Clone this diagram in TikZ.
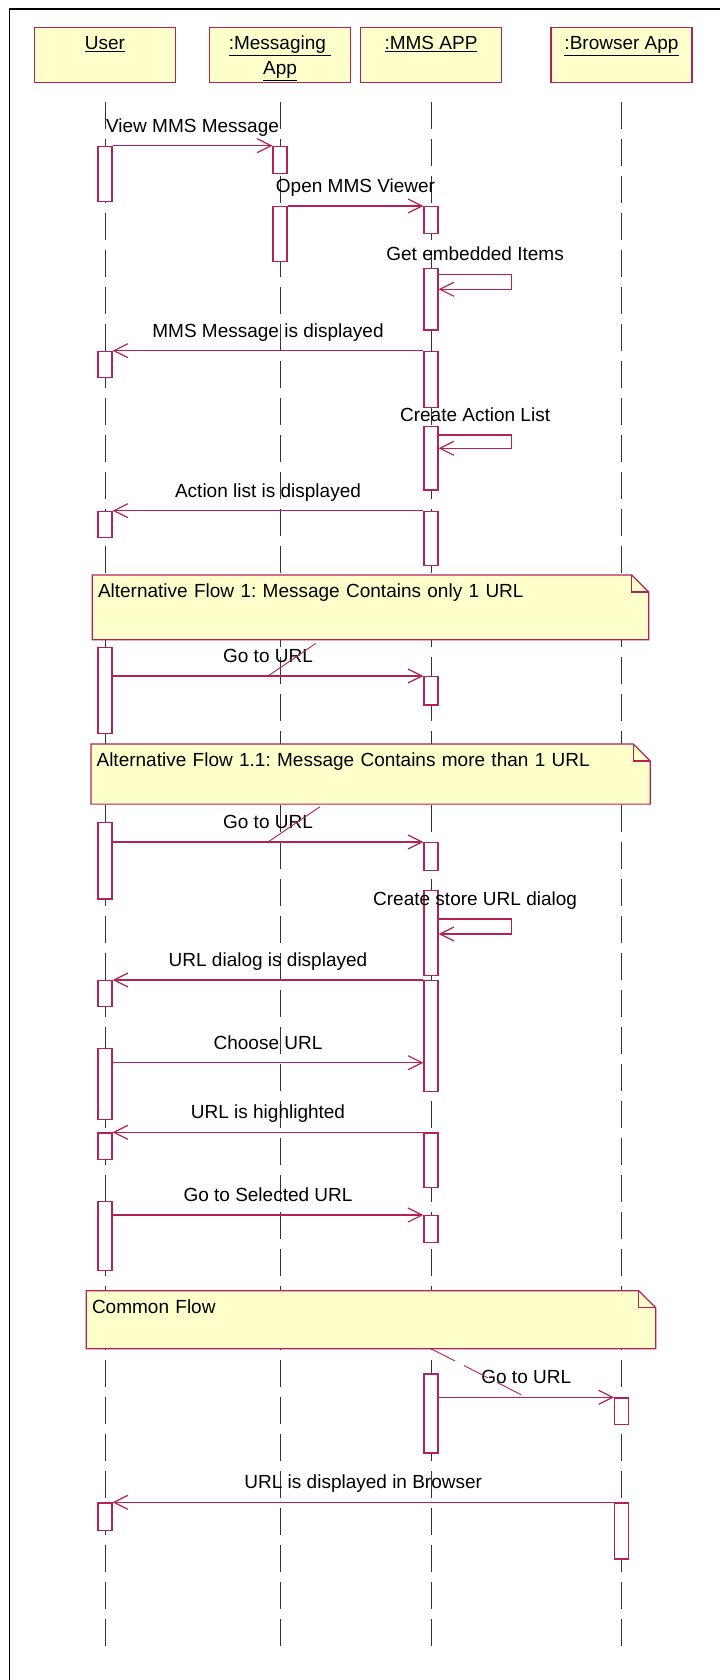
\documentclass[tikz,border=0pt]{standalone}
\usepackage{fontspec}
\setmainfont{Liberation Sans}
\usepackage{tikz}
\usetikzlibrary{arrows.meta, positioning}
\definecolor{RoseLine}{RGB}{178,34,86}
\definecolor{NoteFill}{RGB}{255,255,204}
\colorlet{LifeLine}{black!80}
\newcommand{\seqfont}{\fontsize{19}{25}\selectfont\frenchspacing}

\begin{document}
\begin{tikzpicture}[
    x=1pt, y=-1pt,
    obj/.style={
        rectangle, draw=RoseLine, line width=1.2pt, fill=NoteFill,
        minimum width=141pt, minimum height=55.4pt, inner sep=0pt,
        font=\seqfont, text height=22.7pt, text depth=32.7pt
    },
    act/.style={
        rectangle, draw=RoseLine, line width=1.2pt, fill=white,
        minimum width=14pt, minimum height=#1pt, inner sep=0pt,
        anchor=north
    },
    act/.default=27,
    life/.style={draw=LifeLine, line width=1pt, dash pattern=on 27pt off 10pt},
    msg/.style={draw=RoseLine, line width=1.2pt,
        -{Straight Barb[length=14pt, width=14pt]}},
    msglabel/.style={font=\seqfont, inner sep=0pt, text height=14pt,
        text depth=4pt, midway, yshift=18.5pt},
    note/.style={
        rectangle, fill=NoteFill, anchor=north west, inner ysep=0pt,
        inner xsep=5.5pt, align=left, font=\seqfont, text height=22.3pt
    },
    noteline/.style={draw=RoseLine, line width=1.2pt},
    slash/.style={draw=RoseLine, line width=0.9pt},
    frame/.style={draw=black, line width=1.6pt}
]
\useasboundingbox (0,0) rectangle (720,1680);

% ===================================================================
% FRAME AND OBJECTS
% ===================================================================
\draw[frame] (9.3,1680) -- (9.3,9.3) -- (720,9.3);

\node[obj] (user) at (105,55) {\underline{User}};
\node[obj] (msgapp) at (280,55)
    {\begin{tabular}[t]{@{}c@{}}\underline{:Messaging\ }\\\underline{App}\end{tabular}};
\node[obj] (mmsapp) at (431,55) {\underline{:MMS APP}};
\node[obj] (browser) at (621.5,55) {\underline{:Browser App}};

% lifelines
\draw[life] (user |- 0,101.7) -- (user |- 0,1648.3);
\draw[life] (msgapp |- 0,101.7) -- (msgapp |- 0,1648.3);
\draw[life] (mmsapp |- 0,101.7) -- (mmsapp |- 0,1648.3);
\draw[life] (browser |- 0,101.7) -- (browser |- 0,1648.3);

% ===================================================================
% NOTES
% ===================================================================
\node[note, text width=545.1pt, text depth=42pt] (alt1) at (92.3,575)
    {Alternative Flow 1: Message Contains only 1 URL};
\node[note, text width=547.9pt, text depth=37.4pt] (alt2) at (90.9,744)
    {Alternative Flow 1.1: Message Contains more than 1 URL};
\node[note, text width=558pt, text depth=35.3pt] (alt3) at (86.3,1290.7)
    {Common Flow};

% folded corners
\fill[white] ([xshift=-17pt]alt1.north east) -- (alt1.north east) -- ([yshift=-17pt]alt1.north east) -- cycle;
\draw[noteline] (alt1.north west) -- ([xshift=-17pt]alt1.north east) -- ([yshift=-17pt]alt1.north east)
    -- (alt1.south east) -- (alt1.south west) -- cycle;
\draw[noteline] ([xshift=-17pt]alt1.north east) |- ([yshift=-17pt]alt1.north east);

\fill[white] ([xshift=-17pt]alt2.north east) -- (alt2.north east) -- ([yshift=-17pt]alt2.north east) -- cycle;
\draw[noteline] (alt2.north west) -- ([xshift=-17pt]alt2.north east) -- ([yshift=-17pt]alt2.north east)
    -- (alt2.south east) -- (alt2.south west) -- cycle;
\draw[noteline] ([xshift=-17pt]alt2.north east) |- ([yshift=-17pt]alt2.north east);

\fill[white] ([xshift=-17pt]alt3.north east) -- (alt3.north east) -- ([yshift=-17pt]alt3.north east) -- cycle;
\draw[noteline] (alt3.north west) -- ([xshift=-17pt]alt3.north east) -- ([yshift=-17pt]alt3.north east)
    -- (alt3.south east) -- (alt3.south west) -- cycle;
\draw[noteline] ([xshift=-17pt]alt3.north east) |- ([yshift=-17pt]alt3.north east);

% ===================================================================
% ACTIVATIONS
% ===================================================================
% User
\node[act=55] (u1) at (user |- 0,145.7) {};
\node[act=26] (u2) at (user |- 0,350.7) {};
\node[act=26] (u3) at (user |- 0,510.7) {};
\node[act=86] (u4) at (user |- 0,646.7) {};
\node[act=76.6] (u5) at (user |- 0,821.7) {};
\node[act=26] (u6) at (user |- 0,980) {};
\node[act=71.3] (u7) at (user |- 0,1047.7) {};
\node[act=26.7] (u8) at (user |- 0,1132.3) {};
\node[act=69.3] (u9) at (user |- 0,1200.7) {};
\node[act=27.7] (u10) at (user |- 0,1502.3) {};

% Messaging App
\node[act] (g1) at (msgapp |- 0,145.7) {};
\node[act=55] (g2) at (msgapp |- 0,206) {};

% MMS APP
\node[act=27.3] (a1) at (mmsapp |- 0,206) {};
\node[act=61.6] (a2) at (mmsapp |- 0,267.7) {};
\node[act=56] (a3) at (mmsapp |- 0,350.7) {};
\node[act=63.3] (a4) at (mmsapp |- 0,426) {};
\node[act=54.3] (a5) at (mmsapp |- 0,510.7) {};
\node[act=28.3] (a6) at (mmsapp |- 0,676) {};
\node[act=28] (a7) at (mmsapp |- 0,842) {};
\node[act=85] (a8) at (mmsapp |- 0,890) {};
\node[act=110.7] (a9) at (mmsapp |- 0,980) {};
\node[act=54.4] (a10) at (mmsapp |- 0,1132.3) {};
\node[act=26.7] (a11) at (mmsapp |- 0,1215) {};
\node[act=79] (a12) at (mmsapp |- 0,1373.3) {};

% Browser App
\node[act=26.7] (b1) at (browser |- 0,1397.3) {};
\node[act=56] (b2) at (browser |- 0,1502.3) {};

% ===================================================================
% MESSAGES
% ===================================================================
\draw[msg] (u1.north east) -- (g1.north west) node[msglabel] {View MMS Message};
\draw[msg] (g2.north east) -- (a1.north west) node[msglabel] {Open MMS Viewer};
\draw[msg] ([yshift=-6.6pt]a2.north east) -- ++(73,0) node[msglabel] {Get embedded Items}
    -- ++(0,15) -- ([yshift=-21.6pt]a2.north east);
\draw[msg] (a3.north west) -- (u2.north east) node[msglabel] {MMS Message is displayed};
\draw[msg] ([yshift=-9pt]a4.north east) -- ++(73,0) node[msglabel] {Create Action List}
    -- ++(0,13.3) -- ([yshift=-22.3pt]a4.north east);
\draw[msg] (a5.north west) -- (u3.north east) node[msglabel] {Action list is displayed};

% alternative flow 1
\draw[msg] (u4.east |- a6.north) -- (a6.north west) node[msglabel] {Go to URL}
    coordinate[midway] (url1);
\draw[slash] (url1) -- ++(48,-32.7);

% alternative flow 1.1
\draw[msg] (u5.east |- a7.north) -- (a7.north west) node[msglabel] {Go to URL}
    coordinate[midway] (url2);
\draw[slash] (url2) -- ++(52,-35.3);
\draw[msg] ([yshift=-29pt]a8.north east) -- ++(73,0) node[msglabel] {Create store URL dialog}
    -- ++(0,15) -- ([yshift=-44pt]a8.north east);
\draw[msg] (a9.north west) -- (u6.north east) node[msglabel] {URL dialog is displayed};
\coordinate (choose) at (0,1062.7);
\draw[msg] (u7.east |- choose) -- (a9.west |- choose) node[msglabel] {Choose URL};
\draw[msg] (a10.north west) -- (u8.north east) node[msglabel] {URL is highlighted};
\draw[msg] (u9.east |- a11.north) -- (a11.north west) node[msglabel] {Go to Selected URL};

% common flow
\draw[msg] (a12.east |- b1.north) -- (b1.north west) node[msglabel] {Go to URL}
    coordinate[midway] (url3);
\draw[slash, dash pattern=on 27pt off 10pt] (mmsapp |- alt3.south) -- (url3);
\draw[msg] (b2.north west) -- (u10.north east) node[msglabel] {URL is displayed in Browser};

\end{tikzpicture}
\end{document}
